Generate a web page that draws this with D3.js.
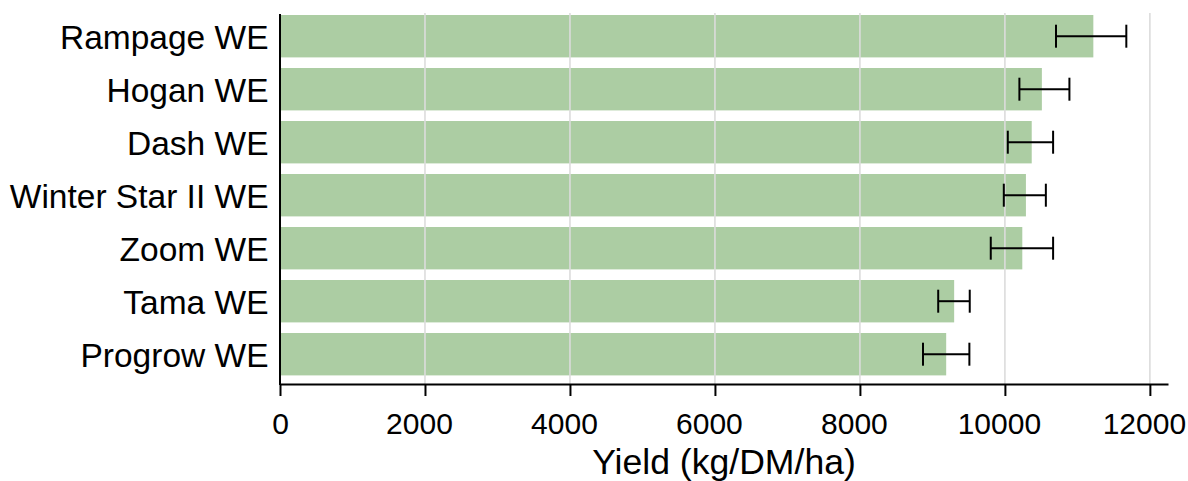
<!DOCTYPE html>
<html>
<head>
<meta charset="utf-8">
<script src="https://cdn.jsdelivr.net/npm/d3@7"></script>
<style>
  html, body { margin: 0; padding: 0; background: #fff; }
  svg { display: block; font-family: "Liberation Sans", Arial, sans-serif; }
</style>
</head>
<body>
<svg id="chart" width="1188" height="481"></svg>
<script>
const categories = ["Rampage WE", "Hogan WE", "Dash WE", "Winter Star II WE", "Zoom WE", "Tama WE", "Progrow WE"];
const yieldMean = [11220, 10510, 10370, 10290, 10240, 9300, 9190];
const errLow = [10705, 10200, 10040, 9985, 9805, 9080, 8870];
const errHigh = [11675, 10890, 10665, 10565, 10665, 9515, 9510];
const xTicks = [0, 2000, 4000, 6000, 8000, 10000, 12000];

(function () {
const data = categories.map((c, i) => ({ c, v: yieldMean[i], lo: errLow[i], hi: errHigh[i] }));

const svg = d3.select("#chart");
const mLeft = 280, mRight = 1168, mTop = 14, mBottom = 384;

const x = d3.scaleLinear().domain([0, 12250]).range([mLeft, mRight]);
const y = d3.scaleBand().domain(categories).range([9.7, 380.7]).paddingInner(0.2).paddingOuter(0.1);

// bars
svg.append("g").selectAll("rect").data(data).join("rect")
  .attr("x", x(0))
  .attr("y", d => y(d.c))
  .attr("width", d => x(d.v) - x(0))
  .attr("height", y.bandwidth())
  .attr("fill", "#accda3");

// gridlines (on top)
svg.append("g").selectAll("line").data(xTicks.filter(t => t > 0)).join("line")
  .attr("x1", d => x(d)).attr("x2", d => x(d))
  .attr("y1", 13).attr("y2", mBottom)
  .attr("stroke", "#dcdcdc").attr("stroke-width", 1.6);

// error bars
const eb = svg.append("g").attr("stroke", "#000").attr("stroke-width", 2);
data.forEach(d => {
  const cy = y(d.c) + y.bandwidth() / 2;
  eb.append("line").attr("x1", x(d.lo)).attr("x2", x(d.hi)).attr("y1", cy).attr("y2", cy);
  eb.append("line").attr("x1", x(d.lo)).attr("x2", x(d.lo)).attr("y1", cy - 11.5).attr("y2", cy + 11.5);
  eb.append("line").attr("x1", x(d.hi)).attr("x2", x(d.hi)).attr("y1", cy - 11.5).attr("y2", cy + 11.5);
});

// x axis
const xAxis = svg.append("g").attr("transform", `translate(0,${mBottom})`)
  .call(d3.axisBottom(x).tickValues(xTicks).tickFormat(d3.format("d")).tickSize(12).tickPadding(17).tickSizeOuter(0));
xAxis.select(".domain").attr("stroke", "#000").attr("stroke-width", 2);
xAxis.selectAll(".tick line").attr("stroke", "#000").attr("stroke-width", 2);
xAxis.selectAll(".tick text").attr("font-size", 30).attr("fill", "#000")
  .attr("font-family", "'Liberation Sans', Arial, sans-serif")
  .attr("dx", d => d === 0 ? 0 : -6);

// y axis line
svg.append("line").attr("x1", mLeft).attr("x2", mLeft).attr("y1", mTop).attr("y2", mBottom + 1)
  .attr("stroke", "#000").attr("stroke-width", 2);

// y labels
svg.append("g").selectAll("text").data(categories).join("text")
  .attr("x", 268.5)
  .attr("y", d => y(d) + y.bandwidth() / 2 + 12.3)
  .attr("text-anchor", "end")
  .attr("font-size", 33.5)
  .attr("fill", "#000")
  .text(d => d);

// x title
svg.append("text")
  .attr("x", (mLeft + mRight) / 2)
  .attr("y", 474.3)
  .attr("text-anchor", "middle")
  .attr("font-size", 35.6)
  .attr("fill", "#000")
  .text("Yield (kg/DM/ha)");
})();
</script>
</body>
</html>
